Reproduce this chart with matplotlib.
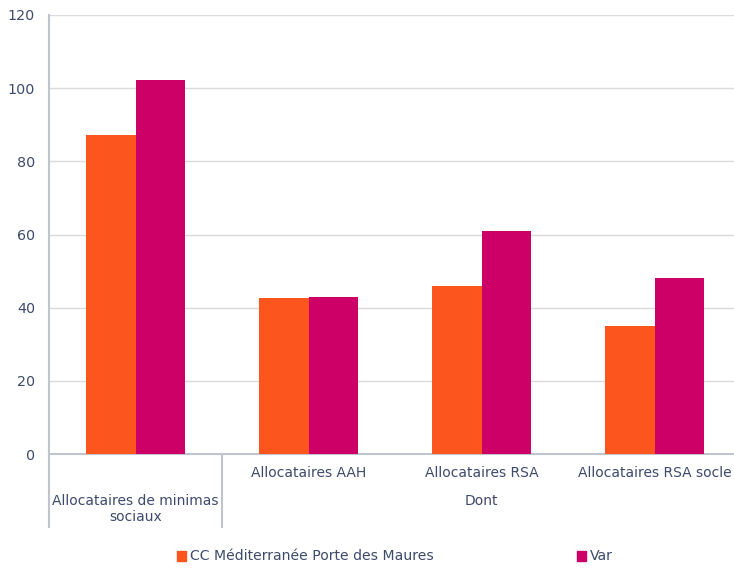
import matplotlib
matplotlib.use("Agg")
import matplotlib.pyplot as plt
import numpy as np

categories = ["Allocataires de minimas\nsociaux", "Allocataires AAH", "Allocataires RSA", "Allocataires RSA socle"]
group_label = "Dont"
series_names = ["CC Méditerranée Porte des Maures", "Var"]
cc_values = [87.2, 42.6, 45.9, 35.0]
var_values = [102.3, 43.0, 61.0, 48.1]
yticks = [0, 20, 40, 60, 80, 100, 120]

colors = ["#FC561E", "#CC0066"]
text_color = "#3D4A6B"
axis_color = "#BFC4CE"
grid_color = "#DADADA"

W, H = 734, 570
fig = plt.figure(figsize=(W / 100, H / 100), dpi=100)
x0, x1 = 49, 741
y0, y1 = 454, 15
ax = fig.add_axes([x0 / W, 1 - y0 / H, (x1 - x0) / W, (y0 - y1) / H])

x = np.arange(len(categories))
bw = 0.286
ax.bar(x - bw / 2, cc_values, bw, color=colors[0], label=series_names[0], zorder=3)
ax.bar(x + bw / 2, var_values, bw, color=colors[1], label=series_names[1], zorder=3)

ax.set_xlim(-0.5, len(categories) - 0.5)
ax.set_ylim(0, 120)
ax.set_yticks(yticks)
ax.set_yticklabels([str(v) for v in yticks])
ax.tick_params(axis="y", length=0, pad=10, labelsize=10.3, labelcolor=text_color)
ax.set_xticks([])
ax.yaxis.grid(True, color=grid_color, linewidth=1, zorder=0)
for s in ["top", "right"]:
    ax.spines[s].set_visible(False)
ax.spines["left"].set_color(axis_color)
ax.spines["left"].set_linewidth(1.5)
ax.spines["bottom"].set_color(axis_color)
ax.spines["bottom"].set_linewidth(1.5)

trans = ax.get_xaxis_transform()
fs = 10
# Level-1 labels
for i in range(1, len(categories)):
    ax.text(x[i], -0.043, categories[i], transform=trans, ha="center", va="center",
            fontsize=fs, color=text_color, clip_on=False)
ax.text(x[0], -0.125, categories[0], transform=trans, ha="center", va="center",
        fontsize=fs, color=text_color, linespacing=1.15, clip_on=False)
ax.text(np.mean(x[1:]), -0.107, group_label, transform=trans, ha="center", va="center",
        fontsize=fs, color=text_color, clip_on=False)

# Separator lines for multi-level axis
sep_bottom = -(527 - 454) / (y0 - y1)
for xs in [-0.5, 0.5]:
    ax.plot([xs, xs], [0, sep_bottom], transform=trans, color=axis_color,
            linewidth=1.5, clip_on=False)

# Legend
lfs = 10.1
fig.text(190 / W, 1 - 556 / H, series_names[0], fontsize=lfs, color=text_color, va="center")
fig.text(590 / W, 1 - 556 / H, series_names[1], fontsize=lfs, color=text_color, va="center")
fig.patches.append(plt.Rectangle((177 / W, 1 - 561 / H), 9 / W, 10 / H, transform=fig.transFigure,
                                 color=colors[0], figure=fig))
fig.patches.append(plt.Rectangle((577 / W, 1 - 561 / H), 9 / W, 10 / H, transform=fig.transFigure,
                                 color=colors[1], figure=fig))

fig.savefig("out.png", dpi=100)
